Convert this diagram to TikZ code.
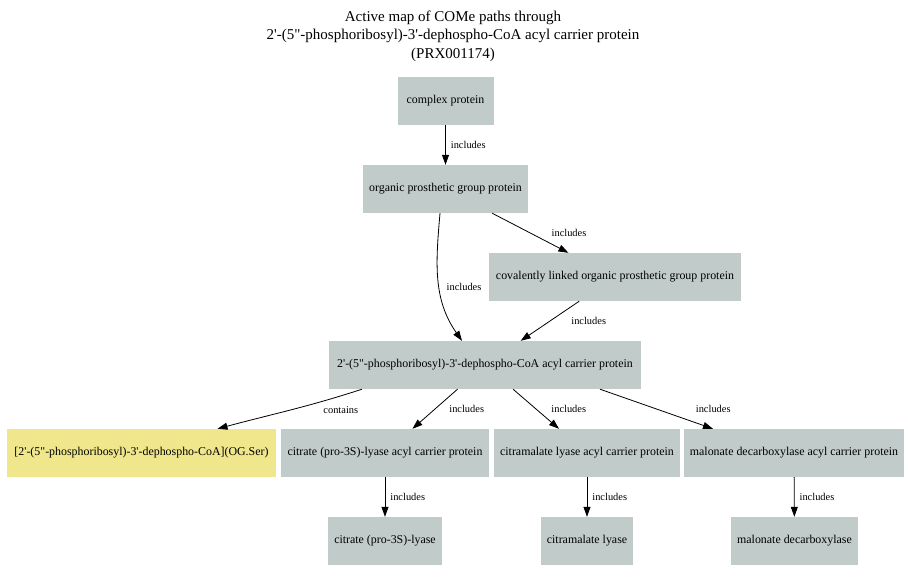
\documentclass[tikz,border=0pt]{standalone}
\usepackage{fontspec}
\setmainfont{Liberation Serif}[Ligatures=TeXOff]
\usetikzlibrary{arrows.meta}

\definecolor{protgray}{HTML}{C1CBCA}
\definecolor{modkhaki}{HTML}{F0E68C}

\tikzset{
	protbox/.style={fill=protgray, minimum height=48pt, inner xsep=6pt,
		font=\fontsize{11.9}{13}\selectfont},
	modbox/.style={protbox, fill=modkhaki},
	rel/.style={draw=black, line width=0.8pt, -{Triangle[length=10pt,width=7pt]}},
	lbl/.style={font=\fontsize{10.4}{11}\selectfont, anchor=west, inner sep=0pt}
}

\begin{document}
\begin{tikzpicture}[x=1pt,y=-1pt]
	\useasboundingbox (0,0) rectangle (908,582);

	\node[align=center, font=\fontsize{15}{18.5}\selectfont] (title) at (453,36)
		{Active map of COMe paths through\\2'-(5"-phosphoribosyl)-3'-dephospho-CoA acyl carrier protein\\(PRX001174)};

	\node[protbox, minimum width=96pt] (complex) at (445.5,101) {complex protein};
	\node[protbox, minimum width=165pt] (org) at (445.5,189) {organic prosthetic group protein};
	\node[protbox, minimum width=252pt] (cov) at (615,277) {covalently linked organic prosthetic group protein};
	\node[protbox, minimum width=312pt] (acp) at (485,365) {2'-(5"-phosphoribosyl)-3'-dephospho-CoA acyl carrier protein};

	\node[modbox, minimum width=269pt] (ogser) at (141.5,453) {[2'-(5"-phosphoribosyl)-3'-dephospho-CoA](OG.Ser)};
	\node[protbox, minimum width=208pt] (citacp) at (385,453) {citrate (pro-3S)-lyase acyl carrier protein};
	\node[protbox, minimum width=184pt] (cmlacp) at (587,453) {citramalate lyase acyl carrier protein};
	\node[protbox, minimum width=220pt] (malacp) at (794,453) {malonate decarboxylase acyl carrier protein};

	\node[protbox, minimum width=111pt] (cit) at (385,541) {citrate (pro-3S)-lyase};
	\node[protbox, minimum width=92pt] (cml) at (587,541) {citramalate lyase};
	\node[protbox, minimum width=125pt] (mal) at (794.5,541) {malonate decarboxylase};

	% edges
	\draw[rel] (complex) -- node[lbl, xshift=5pt] {includes} (org);
	\draw[rel] (org) -- node[lbl, xshift=21pt] {includes} (cov);
	\draw[rel] ([xshift=-5.5pt]org.south) to[out=-95, in=125]
		node[lbl, pos=0.55, xshift=7pt] {includes} ([xshift=-23pt]acp.north);
	\draw[rel] (cov) -- node[lbl, xshift=21pt] {includes} (acp);

	\draw[rel] ([xshift=-123pt]acp.south) to[out=-162, in=15]
		node[lbl, pos=0.5, xshift=33pt] {contains} ([xshift=76pt]ogser.north);
	\draw[rel] (acp) -- node[lbl, xshift=14pt] {includes} (citacp);
	\draw[rel] (acp) -- node[lbl, xshift=15pt] {includes} (cmlacp);
	\draw[rel] ([xshift=115pt]acp.south) -- node[lbl, xshift=39pt] {includes} ([xshift=-81pt]malacp.north);

	\draw[rel] (citacp) -- node[lbl, xshift=5pt] {includes} (cit);
	\draw[rel] (cmlacp) -- node[lbl, xshift=5pt] {includes} (cml);
	\draw[rel] (malacp) -- node[lbl, xshift=5pt] {includes} (mal);
\end{tikzpicture}
\end{document}
